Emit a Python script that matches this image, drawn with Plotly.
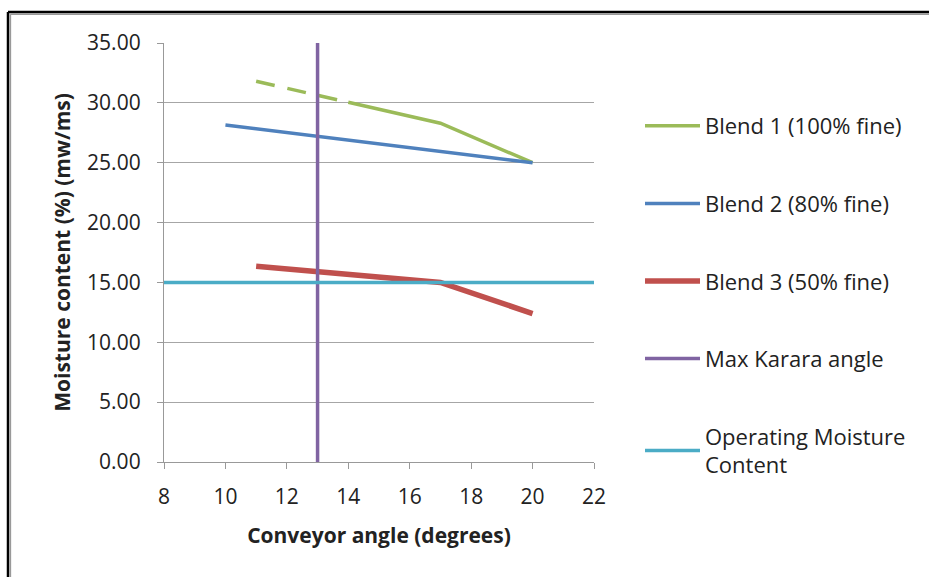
import plotly.graph_objects as go

# Data
blend1_dash_x = [11, 14]
blend1_dash_y = [31.8, 30.05]
blend1_x = [14, 17, 20]
blend1_y = [30.05, 28.3, 25.0]
blend2_x = [10, 20]
blend2_y = [28.15, 25.0]
blend3_x = [11, 17, 20]
blend3_y = [16.35, 15.0, 12.4]
karara_x = [13, 13]
karara_y = [0, 35]
operating_x = [8, 22]
operating_y = [15, 15]

x_ticks = [8, 10, 12, 14, 16, 18, 20, 22]
y_ticks = [0, 5, 10, 15, 20, 25, 30, 35]

FONT = "Open Sans"

fig = go.Figure()
fig.add_trace(go.Scatter(x=blend1_dash_x, y=blend1_dash_y, mode="lines",
                         line=dict(color="#9BBB59", width=3.5, dash="19px,13px"),
                         showlegend=False, legendgroup="g1", hoverinfo="skip"))
fig.add_trace(go.Scatter(x=blend1_x, y=blend1_y, mode="lines", name="Blend 1 (100% fine)",
                         line=dict(color="#9BBB59", width=3.5), legendgroup="g1"))
fig.add_trace(go.Scatter(x=blend2_x, y=blend2_y, mode="lines", name="Blend 2 (80% fine)",
                         line=dict(color="#4F81BD", width=3.5), legendgroup="g2"))
fig.add_trace(go.Scatter(x=blend3_x, y=blend3_y, mode="lines", name="Blend 3 (50% fine)",
                         line=dict(color="#C0504D", width=5.5), legendgroup="g3"))
fig.add_trace(go.Scatter(x=karara_x, y=karara_y, mode="lines", name="Max Karara angle",
                         line=dict(color="#8064A2", width=3.5), legendgroup="g4"))
fig.add_trace(go.Scatter(x=operating_x, y=operating_y, mode="lines",
                         name="Operating Moisture<br>Content",
                         line=dict(color="#4BACC6", width=3.5), legendgroup="g5"))

L, R, T, B = 164, 335, 43, 115
W, H = 929, 577
pw, ph = W - L - R, H - T - B


def px(xp):
    return (xp - L) / pw


def py(yp):
    return (H - B - yp) / ph


fig.update_layout(
    width=W, height=H,
    margin=dict(l=L, r=R, t=T, b=B),
    paper_bgcolor="white", plot_bgcolor="white",
    font=dict(family=FONT, size=20, color="#222222"),
    xaxis=dict(range=[8, 22], tickvals=x_ticks, ticktext=[str(v) for v in x_ticks],
               showgrid=False, zeroline=False, showline=True, linecolor="#999999",
               linewidth=1.3, ticks="outside", ticklen=6, tickcolor="#999999",
               tickfont=dict(size=21, family=FONT), ticklabelstandoff=10,
               title=dict(text="<b>Conveyor angle (degrees)</b>", font=dict(size=21, family=FONT),
                          standoff=18)),
    yaxis=dict(range=[0, 35], tickvals=y_ticks, ticktext=[f"{v:.2f}" for v in y_ticks],
               showgrid=True, gridcolor="#A6A6A6", gridwidth=1.2, zeroline=False,
               showline=True, linecolor="#999999", linewidth=1.3,
               ticks="outside", ticklen=6, tickcolor="#999999",
               tickfont=dict(size=21, family=FONT), ticklabelstandoff=12,
               title=dict(text="<b>Moisture content (%) (mw/ms)</b>", font=dict(size=21, family=FONT),
                          standoff=10)),
    legend=dict(x=px(640), y=py(105), xanchor="left", yanchor="top",
                font=dict(size=22, family=FONT), tracegroupgap=46, itemwidth=55,
                bgcolor="rgba(0,0,0,0)"),
    shapes=[
        dict(type="line", xref="paper", yref="paper", x0=px(8), x1=px(929), y0=py(12), y1=py(12),
             line=dict(color="black", width=2.5), layer="above"),
        dict(type="line", xref="paper", yref="paper", x0=px(8), x1=px(8), y0=py(577), y1=py(12),
             line=dict(color="black", width=2.5), layer="above"),
        dict(type="line", xref="paper", yref="paper", x0=px(10.3), x1=px(929), y0=py(14.2), y1=py(14.2),
             line=dict(color="#999999", width=1.7), layer="above"),
        dict(type="line", xref="paper", yref="paper", x0=px(10.3), x1=px(10.3), y0=py(577), y1=py(14.2),
             line=dict(color="#999999", width=1.7), layer="above"),
    ],
)

fig.write_html("out.html")
